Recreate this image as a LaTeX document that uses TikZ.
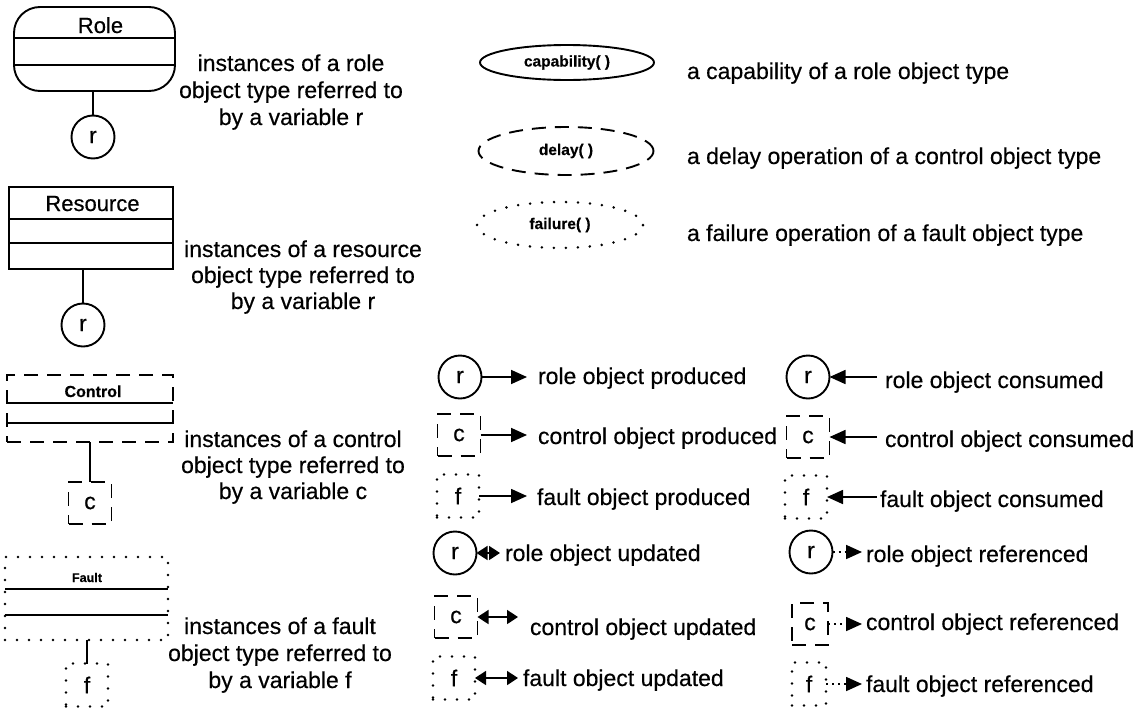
\documentclass[tikz,border=0pt]{standalone}
\usepackage{fontspec}
\setmainfont{Liberation Sans}[FakeBold=0.4]
\usetikzlibrary{arrows.meta,shapes.geometric}
\begin{document}
\begin{tikzpicture}[x=1pt,y=-1pt,
 txt/.style={inner sep=0pt, outer sep=0pt, font=\fontsize{23}{27}\selectfont},
 lbl/.style={txt, anchor=base west},
 clbl/.style={txt, anchor=base},
 solidln/.style={line width=1.9pt},
 dashln/.style={line width=1.9pt, dash pattern=on 14pt off 9pt},
 dotln/.style={line width=2.8pt, line cap=round, dash pattern=on 0pt off 12pt},
 obj/.style={draw, inner sep=0pt, outer sep=0pt, font=\fontsize{23}{27}\selectfont},
 rcirc/.style={obj, circle, solidln, minimum size=43pt},
 csq/.style={obj, rectangle, dashln, minimum width=43pt, minimum height=42pt},
 fsq/.style={obj, rectangle, dotln, minimum width=42pt, minimum height=43pt},
 box/.style={draw, inner sep=0pt, outer sep=0pt},
 oval/.style={draw, ellipse, inner sep=0pt, outer sep=0pt, font=\bfseries\fontsize{15.5}{18}\selectfont},
 arr/.style={line width=1.7pt, -{Triangle[length=16pt,width=14pt]}},
 darr/.style={line width=1.7pt, {Triangle[length=11pt,width=14pt]}-{Triangle[length=11pt,width=14pt]}},
 refarr/.style={arr, dash pattern=on 2pt off 4pt},
]
\useasboundingbox (0,0) rectangle (1147,707);

% ---------- Role ----------
\node[box, solidln, rounded corners=26pt, minimum width=161pt, minimum height=84pt] (rolebox) at (94.5,49) {};
\draw[solidln] ([yshift=-31pt]rolebox.north west) -- ([yshift=-31pt]rolebox.north east);
\draw[solidln] ([yshift=-58pt]rolebox.north west) -- ([yshift=-58pt]rolebox.north east);
\node[clbl, font=\fontsize{22}{26}\selectfont] (rolelbl) at (100.5,33) {Role};
\node[rcirc] (rolevar) at (93,137) {r};
\draw[solidln] (rolebox.south -| rolevar) -- (rolevar.north);
\node[clbl] (rt1) at (291,71) {instances of a role};
\node[clbl] (rt2) at (291,98) {object type referred to};
\node[clbl] (rt3) at (291,125) {by a variable r};

% ---------- Resource ----------
\node[box, solidln, minimum width=164pt, minimum height=82pt] (resbox) at (91,228) {};
\draw[solidln] ([yshift=-32pt]resbox.north west) -- ([yshift=-32pt]resbox.north east);
\draw[solidln] ([yshift=-56pt]resbox.north west) -- ([yshift=-56pt]resbox.north east);
\node[clbl, font=\fontsize{22}{26}\selectfont] (reslbl) at (92.5,211) {Resource};
\node[rcirc] (resvar) at (83,325) {r};
\draw[solidln] (resbox.south -| resvar) -- (resvar.north);
\node[clbl] (st1) at (303,257) {instances of a resource};
\node[clbl] (st2) at (303,283) {object type referred to};
\node[clbl] (st3) at (303,309) {by a variable r};

% ---------- Control ----------
\node[box, dashln, minimum width=166pt, minimum height=67pt] (ctlbox) at (90,408.5) {};
\draw[solidln] ([yshift=-28pt]ctlbox.north west) -- ([yshift=-28pt]ctlbox.north east);
\draw[solidln] ([yshift=-48pt]ctlbox.north west) -- ([yshift=-48pt]ctlbox.north east);
\node[clbl, font=\bfseries\fontsize{16}{19}\selectfont] (ctllbl) at (93,397) {Control};
\node[csq] (ctlvar) at (90,503) {c};
\draw[solidln] (ctlbox.south -| ctlvar) -- (ctlvar.north);
\node[clbl] (ct1) at (293,447) {instances of a control};
\node[clbl] (ct2) at (293,473) {object type referred to};
\node[clbl] (ct3) at (293,499) {by a variable c};

% ---------- Fault ----------
\node[box, dotln, minimum width=163pt, minimum height=83pt] (fltbox) at (86.5,598.5) {};
\draw[solidln] ([yshift=-32pt]fltbox.north west) -- ([yshift=-32pt]fltbox.north east);
\draw[solidln] ([yshift=-58pt]fltbox.north west) -- ([yshift=-58pt]fltbox.north east);
\node[clbl, font=\bfseries\fontsize{12.6}{15}\selectfont] (fltlbl) at (87,582) {Fault};
\node[fsq] (fltvar) at (87,685) {f};
\draw[solidln] (fltbox.south -| fltvar) -- (fltvar.north);
\node[clbl] (ft1) at (280,634) {instances of a fault};
\node[clbl] (ft2) at (280,661) {object type referred to};
\node[clbl] (ft3) at (280,688) {by a variable f};

% ---------- Operations ----------
\node[oval, solidln, minimum width=174pt, minimum height=35pt] (cap) at (567,62.5) {capability( )};
\node[lbl] (capt) at (687,79) {a capability of a role object type};
\node[oval, dashln, minimum width=175pt, minimum height=48pt] (dly) at (566,151) {delay( )};
\node[lbl] (dlyt) at (687,164) {a delay operation of a control object type};
\node[oval, dotln, minimum width=166pt, minimum height=46pt] (fail) at (560,225) {failure( )};
\node[lbl] (failt) at (687,241) {a failure operation of a fault object type};

% ---------- produced ----------
\node[rcirc] (p1) at (460,377) {r};
\node[csq] (p2) at (459,435) {c};
\node[fsq] (p3) at (458,496) {f};
\coordinate (ptip) at (527,0);
\draw[arr] (p1.east) -- (p1.east -| ptip);
\draw[arr] (p2.east) -- (p2.east -| ptip);
\draw[arr] (p3.east) -- (p3.east -| ptip);
\node[lbl] (p1t) at (538,384) {role object produced};
\node[lbl] (p2t) at (538,444) {control object produced};
\node[lbl] (p3t) at (537,505) {fault object produced};

% ---------- updated ----------
\node[rcirc] (u1) at (455,553) {r};
\node[csq] (u2) at (456,617) {c};
\node[fsq] (u3) at (454,678) {f};
\coordinate (utipa) at (500,0);
\coordinate (utipb) at (518,0);
\draw[darr] (u1.east) -- (u1.east -| utipa);
\draw[darr] (u2.east) -- (u2.east -| utipb);
\draw[darr] (u3.east) -- (u3.east -| utipb);
\node[lbl] (u1t) at (505,561) {role object updated};
\node[lbl] (u2t) at (530,635) {control object updated};
\node[lbl] (u3t) at (523,686) {fault object updated};

% ---------- consumed ----------
\node[rcirc] (c1) at (808,377) {r};
\node[csq] (c2) at (808,437) {c};
\node[fsq] (c3) at (806,497) {f};
\coordinate (ctail) at (877,0);
\draw[arr] (c1.east -| ctail) -- (c1.east);
\draw[arr] (c2.east -| ctail) -- (c2.east);
\draw[arr] (c3.east -| ctail) -- (c3.east);
\node[lbl] (c1t) at (885,388) {role object consumed};
\node[lbl] (c2t) at (885,447) {control object consumed};
\node[lbl] (c3t) at (880,507) {fault object consumed};

% ---------- referenced ----------
\node[rcirc] (r1) at (811,552) {r};
\node[csq, minimum width=36pt] (r2) at (810,624) {c};
\node[fsq, minimum width=34pt] (r3) at (809,684) {f};
\coordinate (rtip) at (862,0);
\draw[refarr] (r1.east) -- (r1.east -| rtip);
\draw[refarr] (r2.east) -- (r2.east -| rtip);
\draw[refarr] (r3.east) -- (r3.east -| rtip);
\node[lbl] (r1t) at (866,562) {role object referenced};
\node[lbl] (r2t) at (866,630) {control object referenced};
\node[lbl] (r3t) at (866,692) {fault object referenced};
\end{tikzpicture}
\end{document}
